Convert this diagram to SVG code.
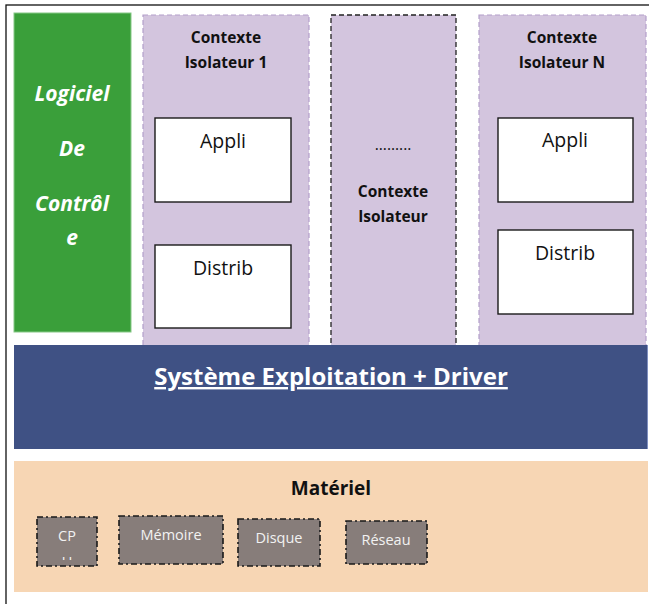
<svg xmlns="http://www.w3.org/2000/svg" width="649" height="604" viewBox="0 0 649 604">
  <style>
    text { font-family: "Open Sans", "Noto Sans", "Liberation Sans", sans-serif; }
    .ctx { fill: #d3c5de; stroke: #b39fca; stroke-width: 1.2; stroke-dasharray: 5 3; }
    .ctx-mid { fill: #d3c5de; stroke: #222; stroke-width: 1.3; stroke-dasharray: 5 3; }
    .box { fill: #ffffff; stroke: #1a1a1a; stroke-width: 1.4; }
    .hw { fill: #877d7a; stroke: #1a1a1a; stroke-width: 1.6; stroke-dasharray: 6 3 2 3; }
    .title { font-size: 15.5px; font-weight: bold; fill: #111; text-anchor: middle; }
    .dots { font-size: 15.5px; font-weight: normal; fill: #111; text-anchor: middle; }
    .lbl { font-size: 19.5px; fill: #111; text-anchor: middle; }
    .hwt { font-size: 14.5px; fill: #f2f2f2; text-anchor: middle; }
    .ctl { font-size: 21px; font-weight: bold; font-style: italic; fill: #ffffff; text-anchor: middle; }
  </style>
  <defs>
    <clipPath id="cpuClip"><rect x="37" y="517" width="60" height="43"/></clipPath>
  </defs>

  <rect width="649" height="604" fill="#ffffff"/>
  <!-- outer frame -->
  <rect x="6" y="5" width="700" height="700" fill="none" stroke="#111" stroke-width="1.3"/>

  <g id="logiciel-controle">
    <rect x="14" y="13" width="117" height="319" fill="#3a9f3a" stroke="#86c886" stroke-width="1"/>
    <text class="ctl" x="72" y="101">Logiciel</text>
    <text class="ctl" x="72" y="156">De</text>
    <text class="ctl" x="72" y="211">Contrôl</text>
    <text class="ctl" x="72" y="245">e</text>
  </g>

  <g id="contexte-1">
    <rect class="ctx" x="143" y="15" width="166" height="335"/>
    <text class="title" x="226" y="43">Contexte</text>
    <text class="title" x="226" y="68">Isolateur 1</text>
  </g>
  <g id="appli-1">
    <rect class="box" x="155" y="118" width="136" height="84"/>
    <text class="lbl" x="223" y="148">Appli</text>
  </g>
  <g id="distrib-1">
    <rect class="box" x="155" y="245" width="136" height="83"/>
    <text class="lbl" x="223" y="275">Distrib</text>
  </g>

  <g id="contexte-mid">
    <rect class="ctx-mid" x="331" y="15" width="125" height="335"/>
    <text class="dots" x="393" y="150">.........</text>
    <text class="title" x="393" y="197">Contexte</text>
    <text class="title" x="393" y="222">Isolateur</text>
  </g>

  <g id="contexte-n">
    <rect class="ctx" x="479" y="15" width="167" height="335"/>
    <text class="title" x="562" y="43">Contexte</text>
    <text class="title" x="562" y="68">Isolateur N</text>
  </g>
  <g id="appli-n">
    <rect class="box" x="498" y="118" width="135" height="84"/>
    <text class="lbl" x="565" y="147">Appli</text>
  </g>
  <g id="distrib-n">
    <rect class="box" x="498" y="230" width="135" height="84"/>
    <text class="lbl" x="565" y="260">Distrib</text>
  </g>

  <g id="systeme">
    <rect x="14" y="345" width="634" height="104" fill="#3f5184"/>
    <line x1="647.5" y1="345" x2="647.5" y2="449" stroke="#8090c0" stroke-width="1"/>
    <text x="331" y="385" font-size="24" font-weight="bold" fill="#ffffff" text-anchor="middle" text-decoration="underline">Système Exploitation + Driver</text>
  </g>

  <g id="materiel">
    <rect x="14" y="461" width="634" height="131" fill="#f7d6b4"/>
    <text x="331" y="495" font-size="19" font-weight="bold" fill="#111" text-anchor="middle">Matériel</text>
  </g>
  <g id="cpu">
    <rect class="hw" x="37" y="517" width="60" height="49"/>
    <text class="hwt" x="67" y="541">CP</text>
    <text class="hwt" x="67" y="567" clip-path="url(#cpuClip)">U</text>
  </g>
  <g id="memoire">
    <rect class="hw" x="119" y="516" width="104" height="48"/>
    <text class="hwt" x="171" y="540">Mémoire</text>
  </g>
  <g id="disque">
    <rect class="hw" x="238" y="519" width="82" height="47"/>
    <text class="hwt" x="279" y="543">Disque</text>
  </g>
  <g id="reseau">
    <rect class="hw" x="346" y="521" width="81" height="43"/>
    <text class="hwt" x="386" y="545">Réseau</text>
  </g>

  <g id="connectors"/>
</svg>
